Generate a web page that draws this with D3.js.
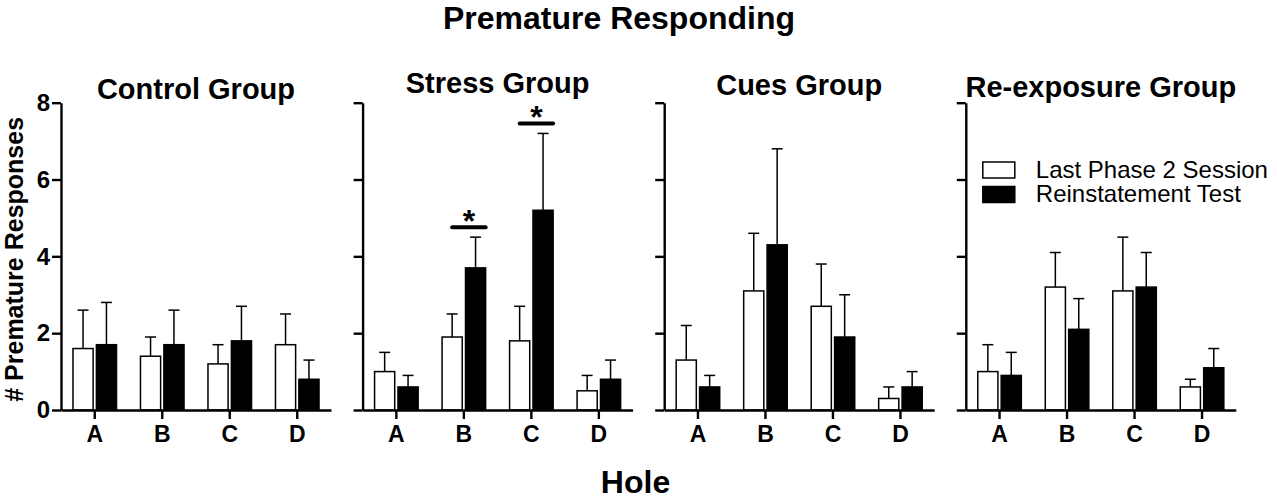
<!DOCTYPE html>
<html>
<head>
<meta charset="utf-8">
<script src="https://cdn.jsdelivr.net/npm/d3@7/dist/d3.min.js"></script>
<style>
	body { margin: 0; background: #fff; }
	svg { display: block; font-family: "Liberation Sans", Arial, sans-serif; }
</style>
</head>
<body>
<svg id="chart"></svg>
<script>
// values (mean and SEM per hole)
var groups = ["Control Group", "Stress Group", "Cues Group", "Re-exposure Group"];
var holes = ["A", "B", "C", "D"];
var seriesNames = ["Last Phase 2 Session", "Reinstatement Test"];

var lastPhaseMean = [[1.6, 1.4, 1.2, 1.7], [1.0, 1.9, 1.8, 0.5], [1.3, 3.1, 2.7, 0.3], [1.0, 3.2, 3.1, 0.6]];
var lastPhaseSem  = [[1.0, 0.5, 0.5, 0.8], [0.5, 0.6, 0.9, 0.4], [0.9, 1.5, 1.1, 0.3], [0.7, 0.9, 1.4, 0.2]];
var reinstMean    = [[1.7, 1.7, 1.8, 0.8], [0.6, 3.7, 5.2, 0.8], [0.6, 4.3, 1.9, 0.6], [0.9, 2.1, 3.2, 1.1]];
var reinstSem     = [[1.1, 0.9, 0.9, 0.5], [0.3, 0.8, 2.0, 0.5], [0.3, 2.5, 1.1, 0.4], [0.6, 0.8, 0.9, 0.5]];

var yTicks = [0, 2, 4, 6, 8];
// stars over the reinstatement bars
var significant = [{ group: 1, hole: "B" }, { group: 1, hole: "C" }];

(function() {
	var width = 1277, height = 499;
	var panelLeft = 61, panelStep = 301.6, panelWidth = 270;
	var top = 102.7, bottom = 410;
	var titleDy = [4, -2, 0, 2];

	var svg = d3.select("#chart")
		.attr("width", width)
		.attr("height", height);

	var y = d3.scaleLinear().domain([0, 8]).range([bottom, top]);
	var x0 = d3.scaleBand().domain(holes).range([0, panelWidth])
		.paddingInner(0.355).paddingOuter(0.1775);
	var x1 = d3.scaleBand().domain(seriesNames).range([0, x0.bandwidth()])
		.paddingInner(0.14);
	var fills = d3.scaleOrdinal().domain(seriesNames).range(["#fff", "#000"]);

	svg.append("text")
		.attr("x", 619).attr("y", 29)
		.attr("text-anchor", "middle")
		.style("font-size", "32px").style("font-weight", "bold")
		.text("Premature Responding");

	svg.append("text")
		.attr("x", 635.5).attr("y", 493)
		.attr("text-anchor", "middle")
		.style("font-size", "32px").style("font-weight", "bold")
		.text("Hole");

	svg.append("text")
		.attr("transform", "translate(23," + ((top + bottom) / 2 + 3) + ") rotate(-90)")
		.attr("text-anchor", "middle")
		.style("font-size", "25px").style("font-weight", "bold")
		.text("# Premature Responses");

	groups.forEach(function(name, gi) {
		var g = svg.append("g")
			.attr("transform", "translate(" + (panelLeft + gi * panelStep) + ",0)");

		g.append("text")
			.attr("x", panelWidth / 2).attr("y", 95 + titleDy[gi])
			.attr("text-anchor", "middle")
			.style("font-size", "29px").style("font-weight", "bold")
			.text(name);

		var rows = holes.map(function(h, i) {
			return [
				{ hole: h, series: seriesNames[0], mean: lastPhaseMean[gi][i], sem: lastPhaseSem[gi][i] },
				{ hole: h, series: seriesNames[1], mean: reinstMean[gi][i], sem: reinstSem[gi][i] }
			];
		});
		var flat = d3.merge(rows);

		var errs = g.append("g").selectAll("g")
			.data(flat).enter().append("g")
			.attr("transform", function(d) {
				return "translate(" + (x0(d.hole) + x1(d.series) + x1.bandwidth() / 2) + ",0)";
			});
		errs.append("line")
			.attr("y1", function(d) { return y(d.mean); })
			.attr("y2", function(d) { return y(d.mean + d.sem); })
			.attr("stroke", "#000").attr("stroke-width", 1.5);
		errs.append("line")
			.attr("x1", -5.5).attr("x2", 5.5)
			.attr("y1", function(d) { return y(d.mean + d.sem); })
			.attr("y2", function(d) { return y(d.mean + d.sem); })
			.attr("stroke", "#000").attr("stroke-width", 1.5);

		g.append("g").selectAll("rect")
			.data(flat).enter().append("rect")
			.attr("x", function(d) { return x0(d.hole) + x1(d.series); })
			.attr("y", function(d) { return y(d.mean); })
			.attr("width", x1.bandwidth())
			.attr("height", function(d) { return y(0) - y(d.mean); })
			.attr("fill", function(d) { return fills(d.series); })
			.attr("stroke", "#000").attr("stroke-width", 1.5);

		var yAxis = d3.axisLeft(y).tickValues(yTicks).tickSize(9).tickPadding(2).tickSizeOuter(0);
		if (gi > 0) yAxis.tickFormat("");
		var ya = g.append("g").call(yAxis);
		var xa = g.append("g")
			.attr("transform", "translate(0," + bottom + ")")
			.call(d3.axisBottom(x0).tickSize(9).tickPadding(7).tickSizeOuter(0));
		[ya, xa].forEach(function(a) {
			a.select(".domain").attr("stroke-width", 2.4);
			a.selectAll(".tick line").attr("stroke-width", 2.4);
			a.selectAll("text")
				.attr("fill", "#000")
				.style("font-family", "\"Liberation Sans\", Arial, sans-serif")
				.style("font-weight", "bold");
		});
		ya.selectAll("text").style("font-size", "24px");
		xa.selectAll("text").style("font-size", "23px");

		significant.filter(function(s) { return s.group === gi; }).forEach(function(s) {
			var i = holes.indexOf(s.hole);
			var yLine = y(reinstMean[gi][i] + reinstSem[gi][i]) - 10;
			var xa1 = x0(s.hole) + x1(seriesNames[0]) + x1.bandwidth() / 2;
			var xa2 = x0(s.hole) + x1(seriesNames[1]) + x1.bandwidth();
			g.append("line")
				.attr("x1", xa1).attr("x2", xa2)
				.attr("y1", yLine).attr("y2", yLine)
				.attr("stroke", "#000").attr("stroke-width", 4)
				.attr("stroke-linecap", "round");
			g.append("text")
				.attr("x", (xa1 + xa2) / 2).attr("y", yLine + 5)
				.attr("text-anchor", "middle")
				.style("font-size", "32px").style("font-weight", "bold")
				.text("*");
		});

		if (gi === groups.length - 1) {
			var legend = g.append("g").attr("transform", "translate(17,162)")
				.selectAll("g").data(seriesNames).enter().append("g")
				.attr("transform", function(d, i) { return "translate(0," + i * 24.5 + ")"; });
			legend.append("rect")
				.attr("width", 32).attr("height", 16)
				.attr("fill", function(d) { return fills(d); })
				.attr("stroke", "#000").attr("stroke-width", 1.5);
			legend.append("text")
				.attr("x", 53).attr("y", 15.5)
				.style("font-size", "24px")
				.text(function(d) { return d; });
		}
	});
})();
</script>
</body>
</html>
